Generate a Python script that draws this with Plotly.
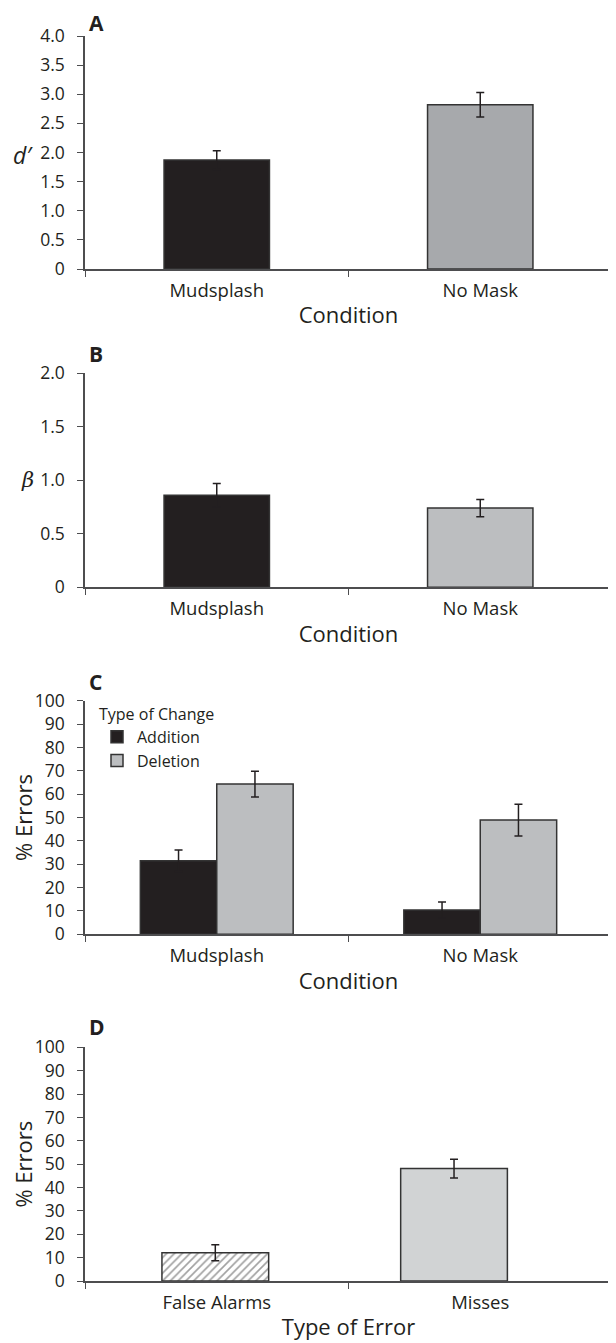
import plotly.graph_objects as go
from plotly.subplots import make_subplots

# ---------------- data ----------------
conditions = ["Mudsplash", "No Mask"]
dprime = [1.87, 2.82]
dprime_err = [0.16, 0.21]
beta = [0.86, 0.74]
beta_err = [0.11, 0.08]
change_types = ["Addition", "Deletion"]
errors_addition = [31.5, 10.4]
errors_addition_err = [4.6, 3.4]
errors_deletion = [64.3, 48.9]
errors_deletion_err = [5.5, 6.8]
error_types = ["False Alarms", "Misses"]
errors_by_type = [12.1, 48.1]
errors_by_type_err = [3.4, 4.0]

ticks_a = [0, 0.5, 1.0, 1.5, 2.0, 2.5, 3.0, 3.5, 4.0]
ticktext_a = ["0", "0.5", "1.0", "1.5", "2.0", "2.5", "3.0", "3.5", "4.0"]
ticks_b = [0, 0.5, 1.0, 1.5, 2.0]
ticktext_b = ["0", "0.5", "1.0", "1.5", "2.0"]
ticks_pct = list(range(0, 101, 10))

# ---------------- styles ----------------
PAGE_OFF = 8            # default page margin around the plot div
W, H = 616 - PAGE_OFF, 1343 - PAGE_OFF
FONT = "Open Sans"
INK = "#231f20"
AXIS = "#4d4d4f"
OUTLINE = "#333333"

def py(px):
    return 1 - (px - PAGE_OFF) / H

def pxx(px):
    return (px - PAGE_OFF) / W

fig = make_subplots(rows=4, cols=1)

err_style = dict(type="data", visible=True, color=INK, thickness=1.5, width=4)

# Panel A
fig.add_trace(go.Bar(
    x=conditions, y=dprime, width=0.4,
    marker=dict(color=[INK, "#a7a9ac"], line=dict(color=OUTLINE, width=1.5)),
    error_y=dict(array=dprime_err, **err_style), showlegend=False), row=1, col=1)

# Panel B
fig.add_trace(go.Bar(
    x=conditions, y=beta, width=0.4,
    marker=dict(color=[INK, "#bcbec0"], line=dict(color=OUTLINE, width=1.5)),
    error_y=dict(array=beta_err, **err_style), showlegend=False), row=2, col=1)

# Panel C
fig.add_trace(go.Bar(
    x=conditions, y=errors_addition, name=change_types[0], width=0.29, offset=-0.29,
    marker=dict(color=INK, line=dict(color=OUTLINE, width=1.5)),
    error_y=dict(array=errors_addition_err, **err_style), legend="legend"), row=3, col=1)
fig.add_trace(go.Bar(
    x=conditions, y=errors_deletion, name=change_types[1], width=0.29, offset=0,
    marker=dict(color="#bcbec0", line=dict(color=OUTLINE, width=1.5)),
    error_y=dict(array=errors_deletion_err, **err_style), legend="legend"), row=3, col=1)

# Panel D
fig.add_trace(go.Bar(
    x=error_types, y=errors_by_type, width=0.405, offset=[-0.208, -0.302],
    marker=dict(color=["#ffffff", "#d1d3d4"], line=dict(color=OUTLINE, width=1.5),
                pattern=dict(shape=["/", ""], fgcolor=INK, size=5.5, solidity=0.3)),
    error_y=dict(array=errors_by_type_err, **err_style), showlegend=False), row=4, col=1)

fig.update_layout(barmode="overlay")

x_dom = [pxx(85), pxx(612)]
y_doms = [
    [py(269), py(36)],
    [py(587.3), py(373.3)],
    [py(934.3), py(700.7)],
    [py(1281), py(1047.3)],
]
x_titles = ["Condition", "Condition", "Condition", "Type of Error"]

tickfont = dict(family=FONT, size=17.5, color=INK)
xtickfont = dict(family=FONT, size=18.5, color=INK)
titlefont = dict(family=FONT, size=22, color=INK)

for i in range(4):
    xa = "xaxis" if i == 0 else f"xaxis{i+1}"
    ya = "yaxis" if i == 0 else f"yaxis{i+1}"
    fig.layout[xa].update(
        domain=x_dom, range=[-0.5, 1.5], showline=True, linecolor=AXIS, linewidth=1.5,
        ticks="outside", ticklen=6, tickwidth=1.2, tickcolor=AXIS, tickson="boundaries",
        showgrid=False, zeroline=False, tickfont=xtickfont, automargin=False,
        ticklabelstandoff=4,
        title=dict(text=x_titles[i], font=titlefont, standoff=7), fixedrange=True)
    fig.layout[ya].update(
        domain=y_doms[i], showline=True, linecolor=AXIS, linewidth=1.5,
        ticks="outside", ticklen=6, tickwidth=1.2, tickcolor=AXIS, automargin=False,
        showgrid=False, zeroline=False, tickfont=tickfont, ticklabelstandoff=9,
        fixedrange=True)

fig.layout.yaxis.update(range=[0, 4], tickvals=ticks_a, ticktext=ticktext_a)
fig.layout.yaxis2.update(range=[0, 2], tickvals=ticks_b, ticktext=ticktext_b)
fig.layout.yaxis3.update(range=[0, 100], tickvals=ticks_pct,
                         title=dict(text="% Errors", font=titlefont, standoff=10))
fig.layout.yaxis4.update(range=[0, 100], tickvals=ticks_pct,
                         title=dict(text="% Errors", font=titlefont, standoff=10))

annots = [
    dict(text="<b>A</b>", x=pxx(88), y=py(8.5), yanchor="top"),
    dict(text="<b>B</b>", x=pxx(88), y=py(354), yanchor="middle"),
    dict(text="<b>C</b>", x=pxx(88), y=py(681.5), yanchor="middle"),
    dict(text="<b>D</b>", x=pxx(88), y=py(1027), yanchor="middle"),
]
for a in annots:
    fig.add_annotation(xref="paper", yref="paper", xanchor="left", borderpad=0,
                       showarrow=False, font=dict(family=FONT, size=21, color=INK), **a)

fig.add_annotation(text="<i>d′</i>", xref="paper", yref="paper", x=pxx(23), y=py(155),
                   xanchor="center", yanchor="middle", showarrow=False,
                   font=dict(family=FONT, size=23, color=INK))
fig.add_annotation(text="<i>β</i>", xref="paper", yref="paper", x=pxx(27), y=py(480),
                   xanchor="center", yanchor="middle", showarrow=False,
                   font=dict(family="DejaVu Serif", size=21, color=INK))

fig.update_layout(
    width=W, height=H, margin=dict(l=0, r=0, t=0, b=0, autoexpand=False),
    paper_bgcolor="white", plot_bgcolor="white",
    font=dict(family=FONT, color=INK),
    legend=dict(x=pxx(97), y=py(699), xanchor="left", yanchor="top",
                title=dict(text="Type of Change", font=dict(family=FONT, size=16, color=INK)),
                font=dict(family=FONT, size=16, color=INK), bgcolor="rgba(0,0,0,0)",
                tracegroupgap=0, itemwidth=30),
)

fig.write_html("out.html")
